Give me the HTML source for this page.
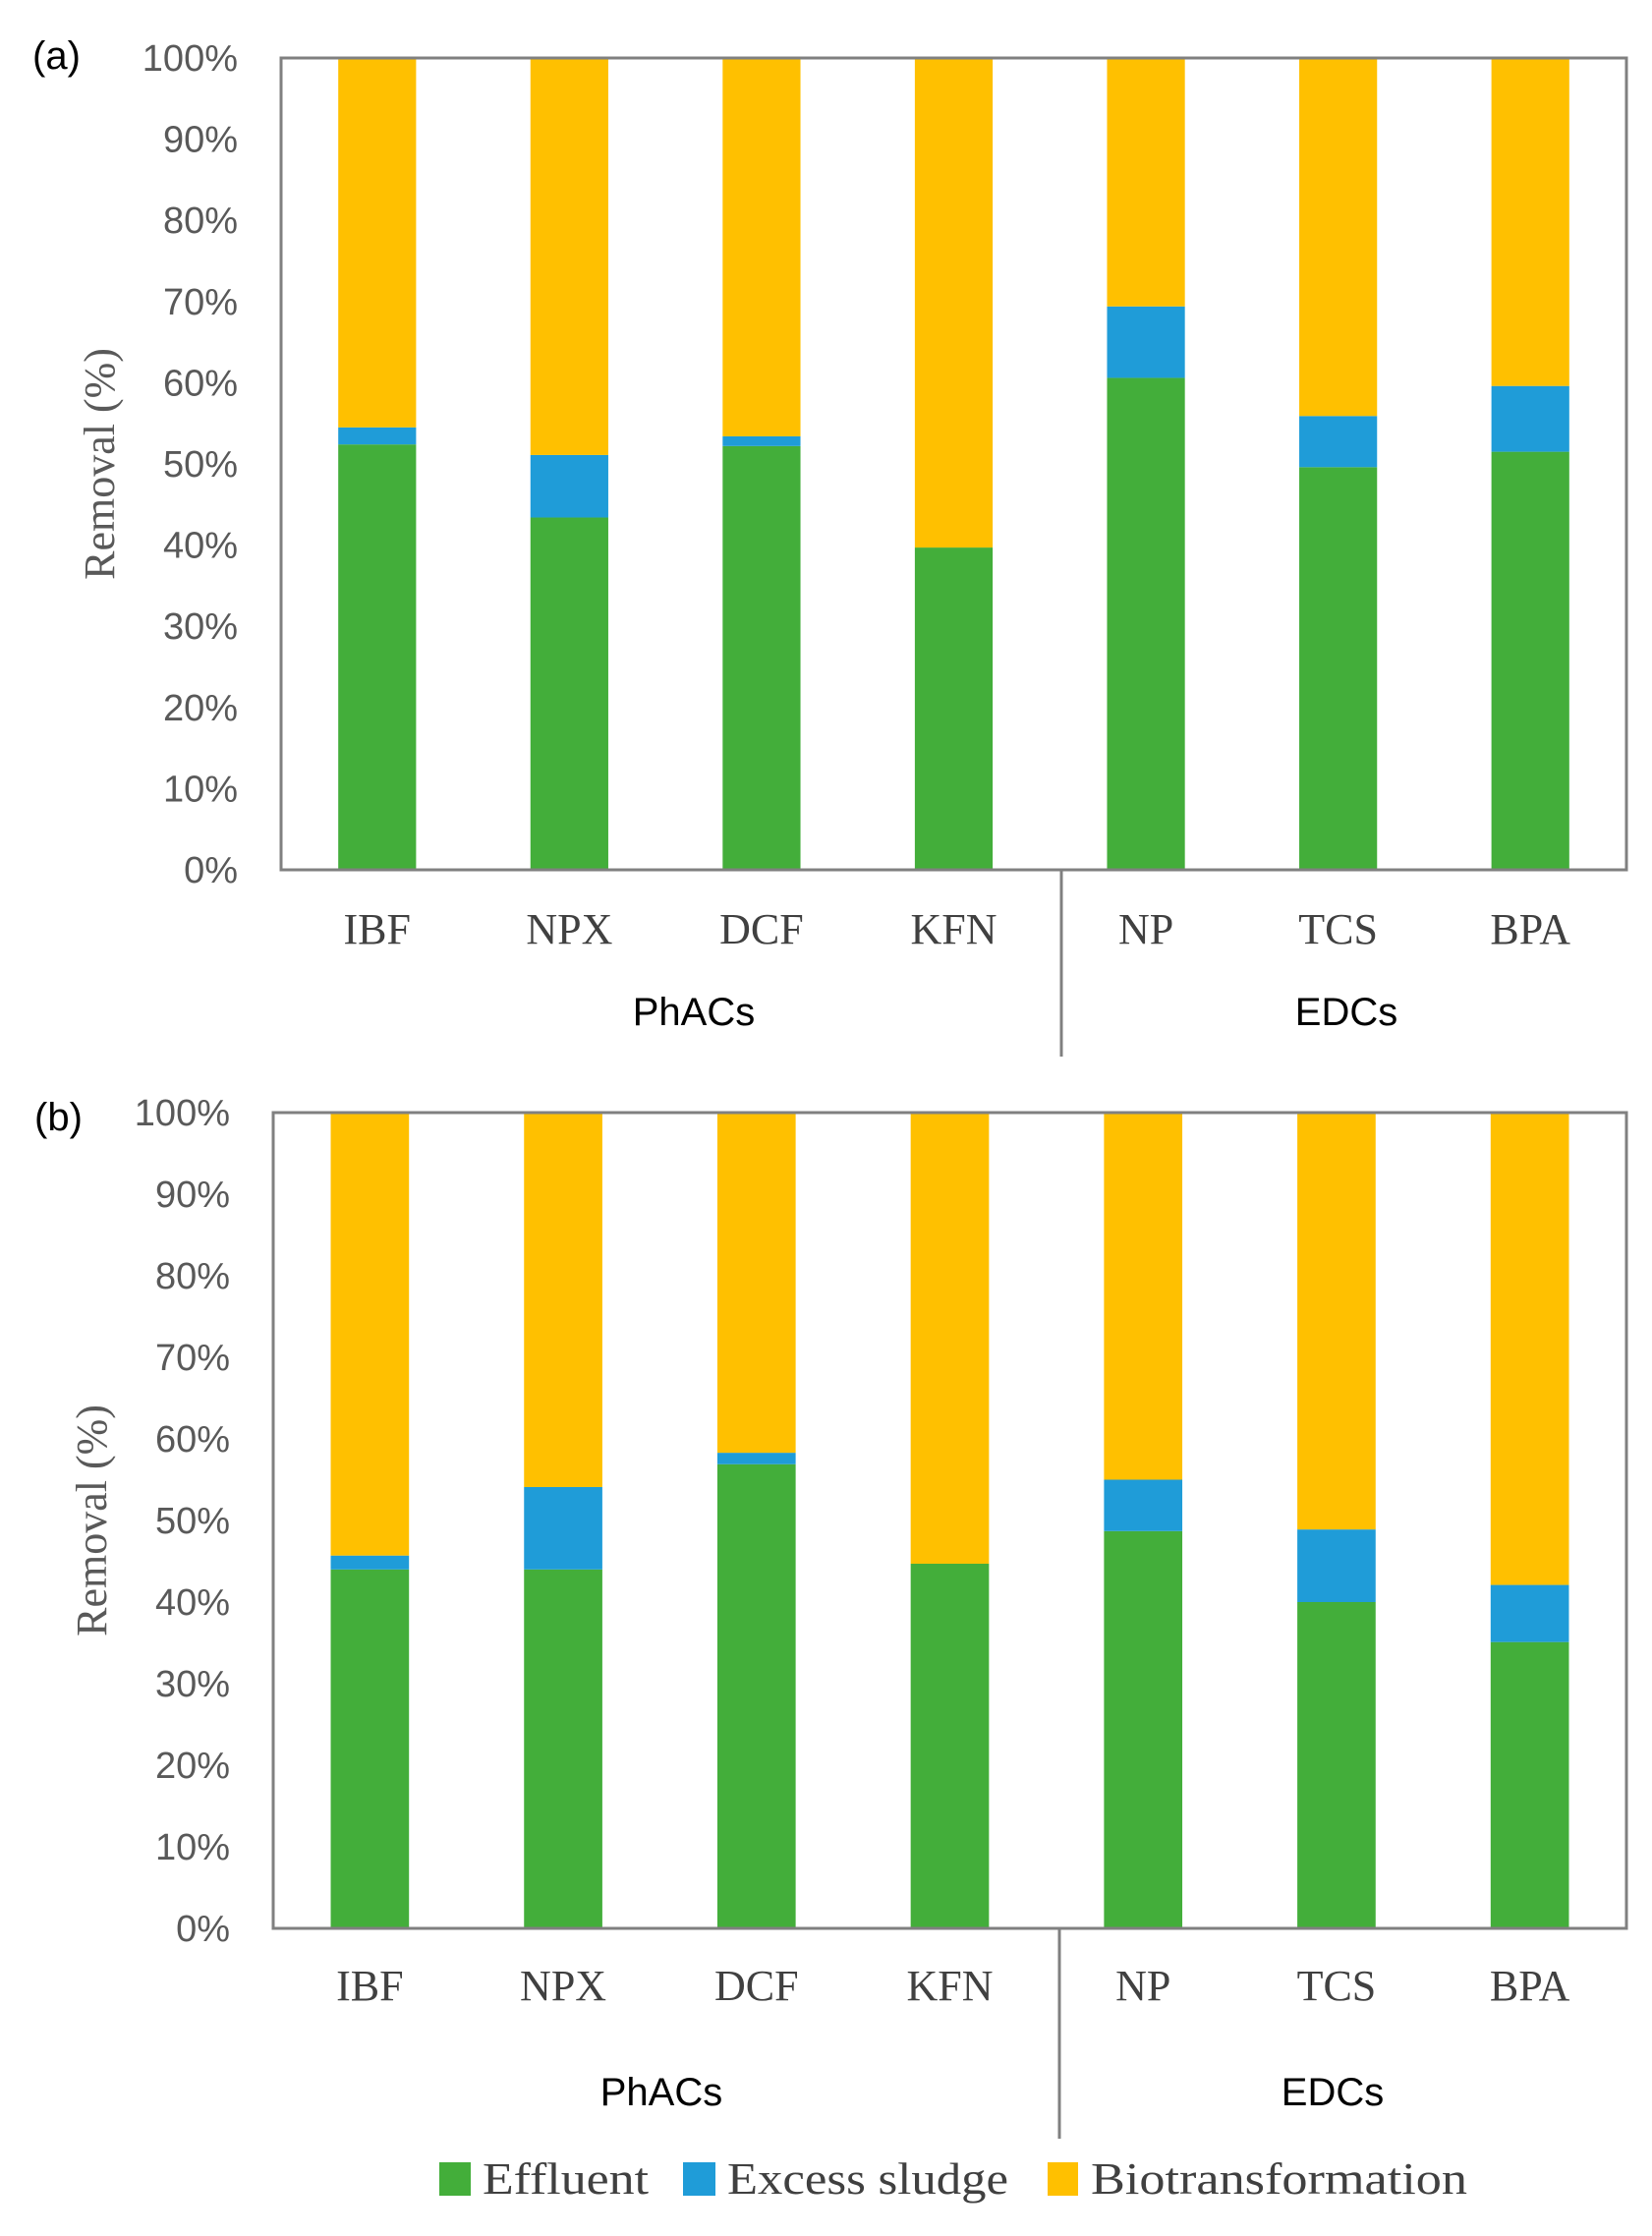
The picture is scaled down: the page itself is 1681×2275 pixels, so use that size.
<!DOCTYPE html>
<html><head><meta charset="utf-8"><style>
body{margin:0;background:#fff}
svg{display:block}
.tick{font-family:"Liberation Sans",sans-serif;font-size:38px;fill:#595959}
.cat{font-family:"Liberation Serif",serif;font-size:44px;fill:#404040}
.grp{font-family:"Liberation Sans",sans-serif;font-size:40px;fill:#000}
.ttl{font-family:"Liberation Serif",serif;font-size:44px;fill:#595959}
.lbl{font-family:"Liberation Sans",sans-serif;font-size:40px;fill:#000}
.leg{font-family:"Liberation Serif",serif;font-size:46px;fill:#404040}
</style></head><body>
<svg id="chart" width="1681" height="2275" viewBox="0 0 1681 2275">
<text class="lbl" x="33" y="70">(a)</text>
<text class="lbl" x="35" y="1150">(b)</text>
<g>
<rect x="447" y="2200" width="32" height="34" fill="#43AE3A"/>
<text class="leg" x="491" y="2232" textLength="169" lengthAdjust="spacingAndGlyphs">Effluent</text>
<rect x="695" y="2200" width="33" height="34" fill="#1F9CD8"/>
<text class="leg" x="740" y="2232" textLength="286" lengthAdjust="spacingAndGlyphs">Excess sludge</text>
<rect x="1066" y="2200" width="31" height="34" fill="#FFC000"/>
<text class="leg" x="1110" y="2232" textLength="383" lengthAdjust="spacingAndGlyphs">Biotransformation</text>
</g>
</svg>
<script>
const categories = ["IBF","NPX","DCF","KFN","NP","TCS","BPA"];
const effluentA = [52.4,43.4,52.2,39.7,60.6,49.6,51.5];
const sludgeA = [2.1,7.7,1.2,0,8.8,6.3,8.1];
const effluentB = [44.0,44.0,56.9,44.7,48.7,40.0,35.1];
const sludgeB = [1.7,10.1,1.4,0,6.3,8.9,7.0];
const tickValues = [0,10,20,30,40,50,60,70,80,90,100];
const groups = ["PhACs","EDCs"];

const NS = "http://www.w3.org/2000/svg";
const svg = document.getElementById("chart");
function mk(tag, attrs, parent){
  const e = document.createElementNS(NS, tag);
  for (const k in attrs) e.setAttribute(k, attrs[k]);
  (parent||svg).appendChild(e);
  return e;
}
function panel(cfg){
  const {id,left,right,top,bottom,eff,slu,catY,grpY,grpX,divX,divBottom} = cfg;
  const g = mk("g",{});
  
  
  const y = v => bottom - (bottom-top)*v/100;
  const cw = (right-left)/categories.length;
  const bw = cw*0.405;
  const xc = i => left + cw*(i+0.5);
  tickValues.forEach(v=>{
    const t = mk("text",{class:"tick",x:left-44,y:y(v)+13,"text-anchor":"end"},g);
    t.textContent = v+"%";
    
    
  });
  categories.forEach((c,i)=>{
    const e = eff[i], s = slu[i];
    const r1 = mk("rect",{x:xc(i)-bw/2,y:y(e),width:bw,height:y(0)-y(e),fill:"#43AE3A"},g);
    
    
    const r2 = mk("rect",{x:xc(i)-bw/2,y:y(e+s),width:bw,height:y(e)-y(e+s),fill:"#1F9CD8"},g);
    
    
    const r3 = mk("rect",{x:xc(i)-bw/2,y:y(100),width:bw,height:y(e+s)-y(100),fill:"#FFC000"},g);
    
    
    const t = mk("text",{class:"cat",x:xc(i),y:catY,"text-anchor":"middle"},g);
    t.textContent = c;
    
    
  });
  const fr = mk("rect",{x:left,y:top,width:right-left,height:bottom-top,fill:"none",stroke:"#808080","stroke-width":3},g);
  
  
  const dv = mk("line",{x1:divX,y1:bottom,x2:divX,y2:divBottom,stroke:"#808080","stroke-width":3},g);
  
  
  groups.forEach((gn,k)=>{
    const t = mk("text",{class:"grp",x:grpX[k],y:grpY,"text-anchor":"middle"},g);
    t.textContent = gn;
    
    
  });
  const yt = mk("text",{class:"ttl",x:0,y:0,"text-anchor":"middle",transform:`translate(${left-170},${(top+bottom)/2}) rotate(-90)`},g);
  yt.textContent = "Removal (%)";
  
  
}
panel({id:"a",left:286,right:1655,top:59,bottom:885,eff:effluentA,slu:sludgeA,catY:960,grpY:1043,grpX:[706,1370],divX:1080,divBottom:1075});
panel({id:"b",left:278,right:1655,top:1132,bottom:1962,eff:effluentB,slu:sludgeB,catY:2035,grpY:2142,grpX:[673,1356],divX:1078,divBottom:2176});
</script>
</body></html>
